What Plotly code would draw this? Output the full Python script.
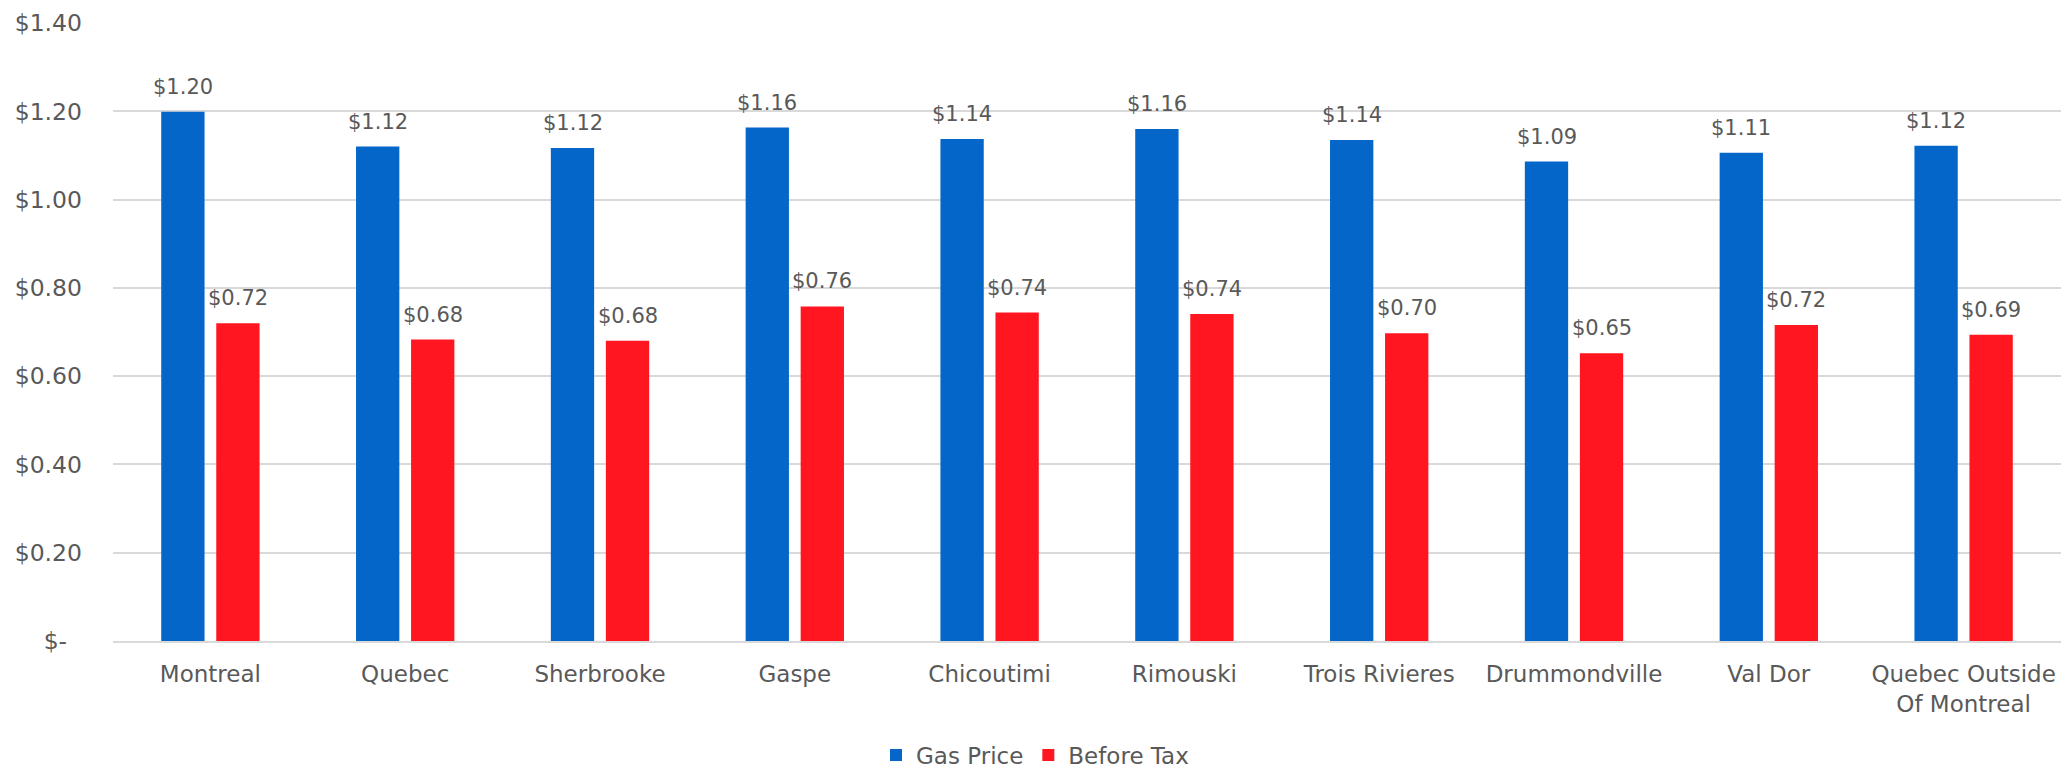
import plotly.graph_objects as go

categories = ["Montreal", "Quebec", "Sherbrooke", "Gaspe", "Chicoutimi", "Rimouski",
              "Trois Rivieres", "Drummondville", "Val Dor", "Quebec Outside<br>Of Montreal"]
gas_price = [1.199, 1.120, 1.117, 1.163, 1.137, 1.160, 1.135, 1.086, 1.106, 1.122]
before_tax = [0.720, 0.683, 0.680, 0.758, 0.744, 0.741, 0.697, 0.652, 0.716, 0.694]
tick_vals = [0, 0.2, 0.4, 0.6, 0.8, 1.0, 1.2, 1.4]
tick_text = ["$-\u00a0\u00a0", "$0.20", "$0.40", "$0.60", "$0.80", "$1.00", "$1.20", "$1.40"]

BLUE = "#0466C8"
RED = "#FF1620"
GRAY = "#595959"
FONT = "DejaVu Sans"

fig = go.Figure()
fig.add_trace(go.Bar(name="Gas Price", x=categories, y=gas_price, marker_color=BLUE,
                     marker_line_width=0))
fig.add_trace(go.Bar(name="Before Tax", x=categories, y=before_tax, marker_color=RED,
                     marker_line_width=0))

annotations = []
for series, shift in ((gas_price, -27.5), (before_tax, 27.5)):
    for c, v in zip(categories, series):
        annotations.append(dict(x=c, y=v, text=f"${v:.2f}", showarrow=False,
                                xshift=shift, yshift=25, yanchor="middle",
                                font=dict(family=FONT, size=21, color=GRAY)))

fig.update_layout(
    width=2070, height=770,
    margin=dict(l=113, r=9, t=21, b=129),
    paper_bgcolor="white", plot_bgcolor="white",
    barmode="group", bargap=0.435, bargroupgap=0.213,
    font=dict(family=FONT, size=23, color=GRAY),
    annotations=annotations,
    legend=dict(orientation="h", xref="container", yref="container",
                x=0.5, xanchor="center", y=0.0195, yanchor="middle",
                font=dict(family=FONT, size=23, color=GRAY), itemwidth=30,
                traceorder="normal"),
    xaxis=dict(showgrid=False, showline=True, linecolor="#D9D9D9", linewidth=1.5,
               ticks="", tickfont=dict(size=23, color=GRAY), ticklabelstandoff=12),
    yaxis=dict(range=[0, 1.4], tickvals=tick_vals, ticktext=tick_text,
               showgrid=True, gridcolor="#D9D9D9", gridwidth=1.5, zeroline=False,
               showline=False, ticks="", tickfont=dict(size=23.5, color=GRAY),
               ticklabelstandoff=30),
)

fig.write_html("out.html")
